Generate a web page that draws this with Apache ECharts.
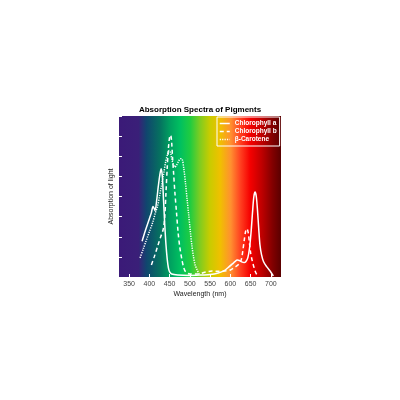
<!DOCTYPE html>
<html><head><meta charset="utf-8">
<script src="https://cdn.jsdelivr.net/npm/echarts@6/dist/echarts.min.js"></script>
<style>html,body{margin:0;padding:0;background:#fff}#c{width:400px;height:400px}</style>
</head><body><div id="c"></div>
<script>
var xTicks = [350, 400, 450, 500, 550, 600, 650, 700];
var seriesNames = ['Chlorophyll a', 'Chlorophyll b', 'β-Carotene'];
var chlA = [[382,1.78],[390,2.3],[400,2.9],[405,3.2],[409,3.5],[412,3.4],[414,3.3],[418,3.8],[422,4.5],[426,5.1],[429,5.38],[432,5.0],[435,3.8],[438,2.6],[441,1.6],[444,0.9],[447,0.45],[450,0.25],[455,0.15],[470,0.1],[500,0.08],[530,0.1],[550,0.12],[570,0.2],[585,0.32],[595,0.48],[605,0.65],[612,0.78],[617,0.84],[622,0.82],[628,0.75],[634,0.72],[638,0.76],[643,0.95],[647,1.4],[651,2.2],[655,3.3],[658,4.0],[661,4.22],[664,4.0],[667,3.3],[670,2.4],[673,1.6],[677,1.1],[682,0.76],[690,0.5],[698,0.3],[706,0.05]];
var chlB = [[405,0.6],[412,1.0],[420,1.5],[428,2.0],[434,2.35],[438,3.0],[441,4.2],[444,5.4],[447,6.4],[450,6.95],[452.5,7.05],[455,6.7],[457,6.0],[460,5.1],[463,4.2],[467,3.2],[471,2.2],[475,1.5],[480,0.9],[485,0.45],[490,0.25],[500,0.15],[520,0.15],[540,0.25],[555,0.3],[570,0.28],[585,0.3],[600,0.35],[612,0.5],[620,0.62],[626,0.8],[630,1.2],[634,1.8],[638,2.3],[641,2.4],[644,2.2],[647,1.7],[650,1.2],[654,0.8],[658,0.5],[662,0.25],[667,0.05]];
var carotene = [[377,0.95],[385,1.4],[392,1.8],[400,2.25],[408,2.7],[415,3.2],[420,3.5],[425,4.0],[430,4.55],[435,5.1],[440,5.7],[445,6.1],[449,6.28],[452,6.2],[455,5.9],[459,5.6],[463,5.46],[467,5.55],[472,5.75],[477,5.88],[481,5.85],[485,5.4],[489,4.7],[493,3.9],[497,3.1],[501,2.3],[505,1.55],[509,1.0],[513,0.6],[518,0.35],[523,0.15]];

var spectrum = {type:'linear', x:0, y:0, x2:1, y2:0, colorStops:[
  {offset:0, color:'#3b1a78'},{offset:0.12, color:'#3a1f78'},{offset:0.17, color:'#10466e'},
  {offset:0.25, color:'#067060'},{offset:0.315, color:'#00a060'},{offset:0.378, color:'#00c060'},
  {offset:0.44, color:'#20cc40'},{offset:0.5, color:'#80cc20'},{offset:0.56, color:'#c8cc00'},
  {offset:0.625, color:'#f0c000'},{offset:0.69, color:'#ff9030'},{offset:0.75, color:'#ff4020'},
  {offset:0.81, color:'#f50000'},{offset:0.88, color:'#c00000'},
  {offset:0.95, color:'#800000'},{offset:1, color:'#5a0000'}]};

var chart = echarts.init(document.getElementById('c'), null, {renderer:'canvas'});
var font = 'Liberation Sans, Arial, sans-serif';
function mk(name, data, type) {
  return {name:name, type:'line', data:data, smooth:0.3, symbol:'none', showSymbol:false,
    lineStyle:{color:'#fff', width:1.5, type:type}, itemStyle:{color:'#fff'}, z:3};
}
chart.setOption({
  animation:false,
  title:{text:'Absorption Spectra of Pigments', left:'center', top:101,
    textStyle:{fontSize:8, fontWeight:'bold', color:'#000', fontFamily:font}},
  grid:{left:119, right:119, top:116, bottom:123, show:true, backgroundColor:spectrum, borderWidth:0},
  legend:{orient:'vertical', left:217, top:117, padding:[3,3,3,2], itemGap:1,
    itemWidth:10, itemHeight:7, borderColor:'#fff', borderWidth:1,
    itemStyle:{opacity:0}, lineStyle:{width:1.5},
    textStyle:{color:'#fff', fontSize:6.5, fontWeight:'bold', fontFamily:font},
    data:seriesNames},
  xAxis:{type:'value', min:325, max:725,
    name:'Wavelength (nm)', nameLocation:'middle', nameGap:14,
    nameTextStyle:{fontSize:7, color:'#222', fontFamily:font},
    axisLine:{show:false}, splitLine:{show:false},
    axisTick:{show:true, inside:true, length:3, lineStyle:{color:'#fff'}, customValues:xTicks},
    axisLabel:{fontSize:7, color:'#444', margin:4, fontFamily:font, customValues:xTicks}},
  yAxis:{type:'value', min:0, max:8, interval:1,
    name:'Absorption of light', nameLocation:'middle', nameGap:4,
    nameTextStyle:{fontSize:7, color:'#222', fontFamily:font},
    axisLine:{show:false}, splitLine:{show:false}, axisLabel:{show:false},
    axisTick:{show:true, inside:true, length:3, lineStyle:{color:'#fff'}}},
  series:[mk(seriesNames[0], chlA, 'solid'), mk(seriesNames[1], chlB, [4,3]), mk(seriesNames[2], carotene, [1.2,1.2])]
});
</script></body></html>
